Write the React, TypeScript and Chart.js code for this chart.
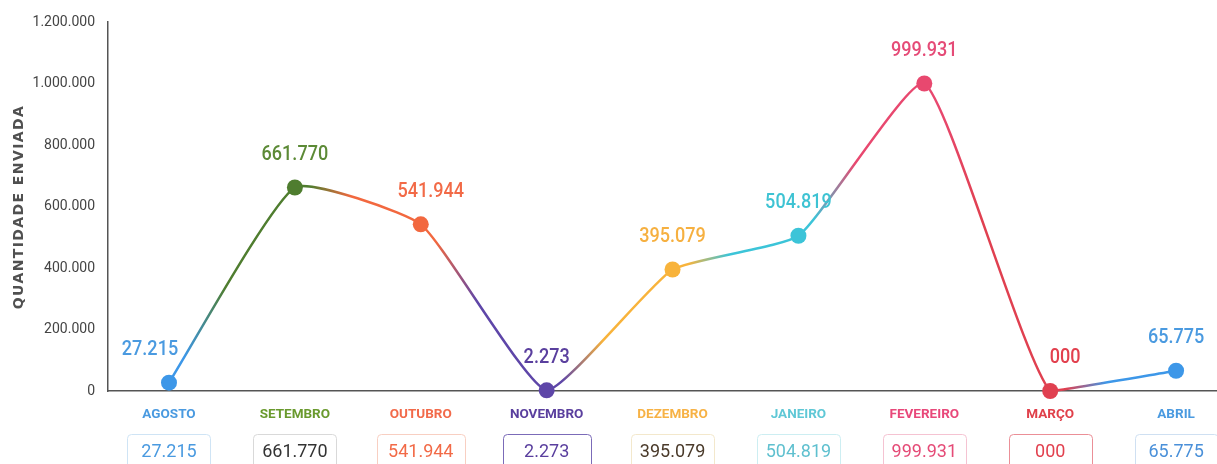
import React, { useEffect, useRef } from "react";
import { Chart, registerables } from "chart.js";

Chart.register(...registerables);

// ---- data ----
const categories = ["AGOSTO", "SETEMBRO", "OUTUBRO", "NOVEMBRO", "DEZEMBRO", "JANEIRO", "FEVEREIRO", "MARÇO", "ABRIL"];
const values = [27215, 661770, 541944, 2273, 395079, 504819, 999931, 0, 65775];
const valueLabels = ["27.215", "661.770", "541.944", "2.273", "395.079", "504.819", "999.931", "000", "65.775"];
const yMax = 1200000;
const yStep = 200000;
const yTitle = "QUANTIDADE ENVIADA";

// ---- style ----
const FONT = 'Roboto, "Noto Sans", sans-serif';
const pointColors = ["#3d97e8", "#4f7d2f", "#f2683f", "#5e46a8", "#f8b33b", "#3cc4d8", "#e8486f", "#e04050", "#3d97e8"];
const labelColors = ["#4a9ae0", "#5c8a36", "#f26a47", "#5a3f9e", "#f6b040", "#3ec3d3", "#e54b77", "#e2404e", "#4a9ae0"];
const tickColors = ["#4a9ae0", "#6a9a2e", "#f26a4a", "#5a3f9e", "#f7b245", "#5fc8d6", "#e8487a", "#e0404a", "#4a9ae0"];
const boxText = ["#4a9ae0", "#333333", "#f26a47", "#5a3f9e", "#4a3a2a", "#5fc0cf", "#e54b77", "#e2404e", "#4a90d9"];
const boxBorder = ["#cfe4f5", "#d9d9d9", "#f8cfc2", "#7b6bb8", "#f3e8cc", "#cdeef2", "#f5c3d2", "#eb8f97", "#cfe0f2"];
const LABEL_DX = [-19, 0, 10, 0, 0, 0, 0, 15, 0];

function fmt(v: number): string {
  return String(Math.round(v)).replace(/\B(?=(\d{3})+(?!\d))/g, ".");
}

export default function App() {
  const canvasRef = useRef<HTMLCanvasElement | null>(null);

  useEffect(() => {
    const canvas = canvasRef.current!;
    const c2d = canvas.getContext("2d")!;

    const decor = {
      id: "decor",
      afterDatasetsDraw(chart: any) {
        const { ctx } = chart;
        const meta = chart.getDatasetMeta(0);
        meta.data.forEach((pt: any, i: number) => {
          ctx.save();
          ctx.font = `500 21px ${FONT}`;
          ctx.textAlign = "center";
          ctx.textBaseline = "middle";
          ctx.fillStyle = labelColors[i];
          ctx.translate(pt.x + LABEL_DX[i], pt.y - 33);
          ctx.scale(0.86, 1);
          ctx.fillText(valueLabels[i], 0, 0);
          ctx.restore();
        });
      },
      afterDraw(chart: any) {
        const { ctx } = chart;
        const xs = chart.scales.x;
        ctx.save();
        // value boxes
        categories.forEach((_, i) => {
          const cx = xs.getPixelForValue(i);
          const w = i === 2 || i === 3 ? 88 : 83;
          const x0 = Math.round(cx - w / 2) + 0.5;
          const y0 = 434.5;
          ctx.beginPath();
          ctx.roundRect(x0, y0, w, 40, 4);
          ctx.lineWidth = 1;
          ctx.strokeStyle = boxBorder[i];
          ctx.stroke();
          ctx.font = `18px ${FONT}`;
          ctx.textAlign = "center";
          ctx.textBaseline = "middle";
          ctx.fillStyle = boxText[i];
          ctx.fillText(valueLabels[i], cx, 452);
        });
        // y title
        ctx.translate(19, 207);
        ctx.rotate(-Math.PI / 2);
        ctx.font = 'bold 14px "DejaVu Sans", sans-serif';
        (ctx as any).letterSpacing = "1.4px";
        ctx.fillStyle = "#505050";
        ctx.textAlign = "center";
        ctx.textBaseline = "middle";
        ctx.fillText(yTitle, 0, 0);
        ctx.restore();
      },
    };

    const chart = new Chart(canvas, {
      type: "line",
      data: {
        datasets: [
          {
            data: values.map((v, i) => ({ x: i, y: v })),
            borderWidth: 2.5,
            tension: 0.15,
            pointRadius: 8,
            pointHoverRadius: 8,
            pointBorderWidth: 0,
            pointBackgroundColor: pointColors,
            borderColor: pointColors[0],
            clip: false as any,
            segment: {
              borderColor: (sc: any) => {
                const i0 = sc.p0DataIndex;
                const i1 = sc.p1DataIndex;
                const g = c2d.createLinearGradient(sc.p0.x, 0, sc.p1.x, 0);
                g.addColorStop(0, pointColors[i0]);
                g.addColorStop(0.12, pointColors[i0]);
                g.addColorStop(0.45, pointColors[i1]);
                g.addColorStop(1, pointColors[i1]);
                return g;
              },
            },
          } as any,
        ],
      },
      options: {
        animation: false,
        responsive: false,
        layout: { autoPadding: false, padding: { top: 22, right: 0, left: 0, bottom: 0 } },
        plugins: { legend: { display: false }, tooltip: { enabled: false } },
        scales: {
          x: {
            type: "linear",
            min: -0.4845,
            max: 8.325,
            grid: { display: false, drawTicks: false },
            border: { display: true, color: "#555555", width: 1.5 },
            afterBuildTicks: (s: any) => {
              s.ticks = categories.map((_, i) => ({ value: i }));
            },
            afterFit: (s: any) => {
              s.height = 73;
            },
            ticks: {
              autoSkip: false,
              maxRotation: 0,
              padding: 16,
              color: (c: any) => tickColors[c.index],
              font: { family: FONT, size: 13.5, weight: "bold" },
              callback: (v: any) => categories[v as number],
            },
          },
          y: {
            min: 0,
            max: yMax,
            grid: { display: false, drawTicks: false },
            border: { display: true, color: "#555555", width: 1.5 },
            afterFit: (s: any) => {
              s.width = 108;
            },
            ticks: {
              stepSize: yStep,
              padding: 13,
              color: "#444444",
              font: { family: FONT, size: 14 },
              callback: (v: any) => fmt(Number(v)),
            },
          },
        },
      } as any,
      plugins: [decor],
    });

    return () => chart.destroy();
  }, []);

  return (
    <div style={{ position: "absolute", left: 0, top: 0, width: 1217, height: 464, background: "#ffffff", overflow: "hidden" }}>
      <canvas ref={canvasRef} width={1217} height={464} />
    </div>
  );
}
